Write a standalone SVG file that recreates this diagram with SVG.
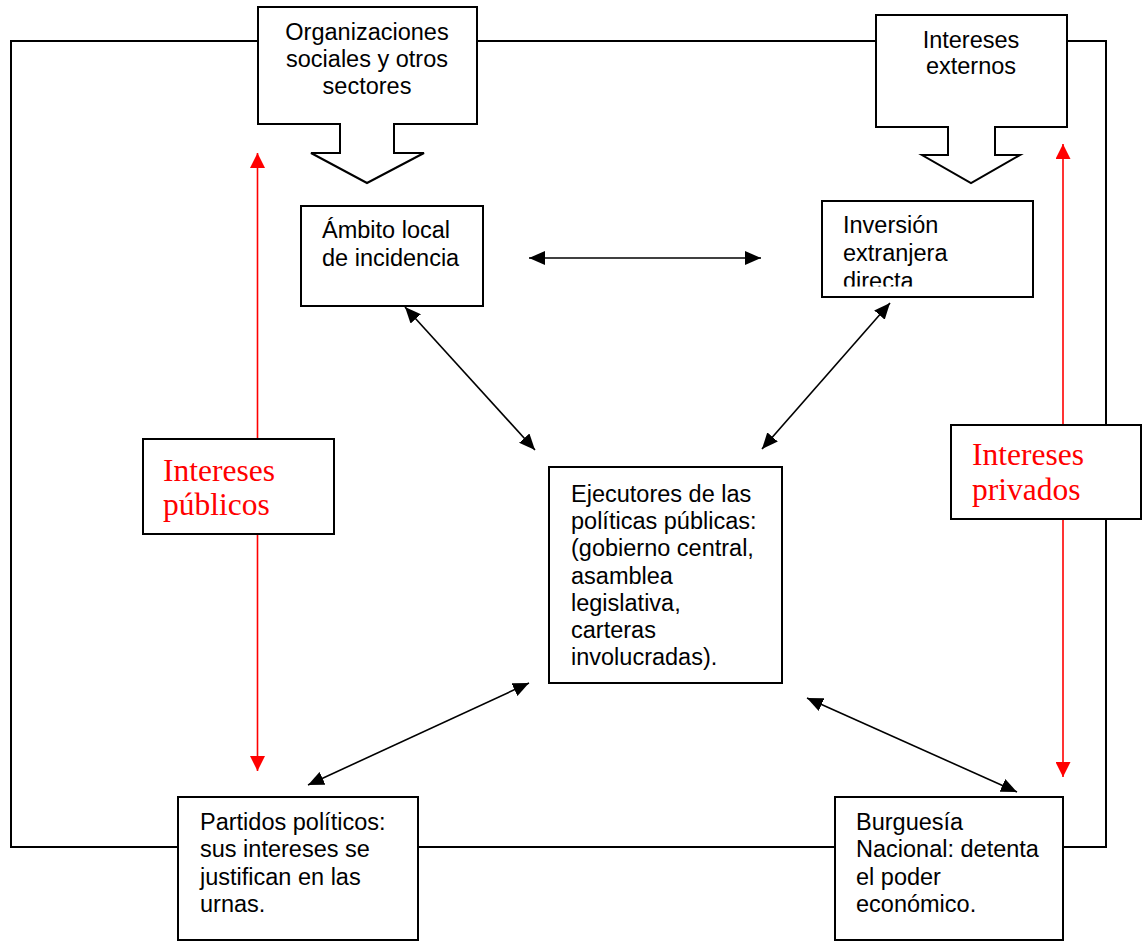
<svg xmlns="http://www.w3.org/2000/svg" width="1142" height="941" viewBox="0 0 1142 941">
<style>
.box{fill:#fff;stroke:#000;stroke-width:2}
.t{font-family:"Liberation Sans",Arial,sans-serif;font-size:23.5px;fill:#000}
.r{font-family:"Liberation Serif","Times New Roman",serif;font-size:31.5px;fill:#f00}
.c{stroke:#000;stroke-width:1.6;fill:none;marker-start:url(#ah);marker-end:url(#ah)}
.rc{stroke:#f00;stroke-width:1.6;fill:none;marker-start:url(#rh);marker-end:url(#rh)}
.frame{fill:none;stroke:#000;stroke-width:2}
</style>
<defs>
<marker id="ah" markerUnits="userSpaceOnUse" markerWidth="16" markerHeight="14" refX="16" refY="7" orient="auto-start-reverse" viewBox="0 0 16 14">
<path d="M0,0 L16,7 L0,14 Z" fill="#000"/>
</marker>
<marker id="rh" markerUnits="userSpaceOnUse" markerWidth="15" markerHeight="15" refX="15" refY="7.5" orient="auto-start-reverse" viewBox="0 0 15 15">
<path d="M0,0 L15,7.5 L0,15 Z" fill="#f00"/>
</marker>
<clipPath id="invclip"><rect x="822" y="201" width="211" height="85.5"/></clipPath>
</defs>
<rect class="frame" x="11" y="41" width="1095" height="806"/>
<g id="connectors">
<line class="rc" x1="257.5" y1="153" x2="257.5" y2="771"/>
<line class="rc" x1="1063" y1="144" x2="1063" y2="777"/>
<line class="c" x1="529" y1="258" x2="761" y2="258"/>
<line class="c" x1="405" y1="307" x2="535" y2="450"/>
<line class="c" x1="890" y1="303" x2="762" y2="449"/>
<line class="c" x1="308" y1="785" x2="529" y2="683"/>
<line class="c" x1="807" y1="698" x2="1017" y2="792"/>
</g>
<g id="organizaciones">
<path class="box" d="M258,7 H477 V124 H394 V153 H424 L367,183 L311,153 H340 V124 H258 Z"/>
<text class="t" text-anchor="middle"><tspan x="367" y="40">Organizaciones</tspan><tspan x="367" y="67">sociales y otros</tspan><tspan x="367" y="94">sectores</tspan></text>
</g>
<g id="intereses-externos">
<path class="box" d="M876,15 H1067 V127 H995 V155 H1020 L971,183 L922,155 H948 V127 H876 Z"/>
<text class="t" text-anchor="middle"><tspan x="971" y="48">Intereses</tspan><tspan x="971" y="74">externos</tspan></text>
</g>
<g id="ambito">
<rect class="box" x="301" y="206" width="182" height="100"/>
<text class="t"><tspan x="322" y="238">Ámbito local</tspan><tspan x="322" y="266">de incidencia</tspan></text>
</g>
<g id="inversion">
<rect class="box" x="822" y="201" width="211" height="96"/>
<text class="t" clip-path="url(#invclip)"><tspan x="843" y="233">Inversión</tspan><tspan x="843" y="260.5">extranjera</tspan><tspan x="843" y="289">directa</tspan></text>
</g>
<g id="intereses-publicos">
<rect class="box" x="143" y="439" width="191" height="95"/>
<text class="r"><tspan x="163" y="481">Intereses</tspan><tspan x="163" y="515">públicos</tspan></text>
</g>
<g id="intereses-privados">
<rect class="box" x="951" y="425" width="190" height="94"/>
<text class="r"><tspan x="972" y="465">Intereses</tspan><tspan x="972" y="500">privados</tspan></text>
</g>
<g id="ejecutores">
<rect class="box" x="549" y="467" width="233" height="216"/>
<text class="t"><tspan x="571" y="502">Ejecutores de las</tspan><tspan x="571" y="529">políticas públicas:</tspan><tspan x="571" y="556">(gobierno central,</tspan><tspan x="571" y="583.5">asamblea</tspan><tspan x="571" y="611">legislativa,</tspan><tspan x="571" y="638">carteras</tspan><tspan x="571" y="665">involucradas).</tspan></text>
</g>
<g id="partidos">
<rect class="box" x="178" y="797" width="240" height="143"/>
<text class="t"><tspan x="200" y="830">Partidos políticos:</tspan><tspan x="200" y="857">sus intereses se</tspan><tspan x="200" y="885">justifican en las</tspan><tspan x="200" y="912">urnas.</tspan></text>
</g>
<g id="burguesia">
<rect class="box" x="835" y="797" width="228" height="143"/>
<text class="t"><tspan x="856" y="830">Burguesía</tspan><tspan x="856" y="857">Nacional: detenta</tspan><tspan x="856" y="885">el poder</tspan><tspan x="856" y="912">económico.</tspan></text>
</g>
</svg>
